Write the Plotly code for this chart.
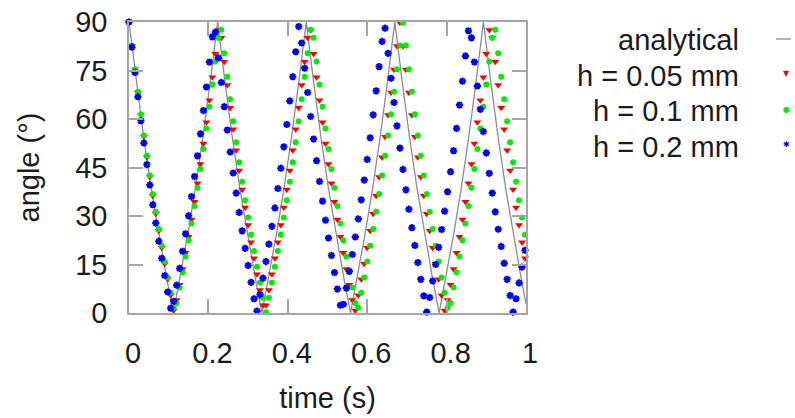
import plotly.graph_objects as go

# ---------------- data ----------------
# analytical solution (polyline vertices)
analytical_time = [
    0.0, 0.0186, 0.0372, 0.0558, 0.0744, 0.0930, 0.1116, 0.1302, 0.1488, 0.1674, 0.1860, 0.2046,
    0.2232, 0.2418, 0.2604, 0.2790, 0.2976, 0.3162, 0.3348, 0.3534, 0.3720, 0.3906, 0.4092, 0.4278,
    0.4464, 0.4650, 0.4836, 0.5022, 0.5208, 0.5394, 0.5580, 0.5766, 0.5952, 0.6138, 0.6324, 0.6510,
    0.6696, 0.6882, 0.7068, 0.7254, 0.7440, 0.7626, 0.7812, 0.7998, 0.8184, 0.8370, 0.8556, 0.8742,
    0.8928, 0.9114, 0.9300, 0.9486, 0.9672, 0.9858, 1.0]
analytical_angle = [
    90, 71.5, 54.2, 38.7, 24.8, 12.1, 0, 12.1, 24.8, 38.7, 54.2, 71.5,
    90, 71.5, 54.2, 38.7, 24.8, 12.1, 0, 12.1, 24.8, 38.7, 54.2, 71.5,
    90, 71.5, 54.2, 38.7, 24.8, 12.1, 0, 12.1, 24.8, 38.7, 54.2, 71.5,
    90, 71.5, 54.2, 38.7, 24.8, 12.1, 0, 12.1, 24.8, 38.7, 54.2, 71.5,
    90, 71.5, 54.2, 38.7, 24.8, 12.1, 2.8]

# simulated angles, one sample every 0.0075 s
angle_h005 = [
    90.0, 82.6, 75.3, 68.2, 61.2, 54.5, 48.2, 42.1, 36.3, 30.7,
    25.4, 20.2, 15.2, 10.4, 5.5, 0.8, 4.0, 8.7, 13.6, 18.6,
    23.6, 28.9, 34.4, 40.1, 46.1, 52.4, 59.0, 65.8, 72.9, 80.2,
    87.5, 85.1, 77.7, 70.5, 63.5, 56.8, 50.3, 44.1, 38.2, 32.6,
    27.2, 21.9, 16.9, 12.0, 7.1, 2.4, 2.4, 7.1, 12.0, 16.9,
    21.9, 27.2, 32.6, 38.2, 44.1, 50.3, 56.8, 63.5, 70.5, 77.7,
    85.1, 87.5, 80.2, 72.9, 65.8, 59.0, 52.4, 46.1, 40.1, 34.4,
    28.9, 23.6, 18.6, 13.6, 8.7, 4.0, 0.8, 5.5, 10.4, 15.2,
    20.2, 25.4, 30.7, 36.3, 42.1, 48.2, 54.5, 61.2, 68.2, 75.3,
    82.6, 89.8, 82.6, 75.3, 68.2, 61.2, 54.5, 48.2, 42.1, 36.3,
    30.7, 25.4, 20.2, 15.2, 10.4, 5.5, 0.8, 4.0, 8.7, 13.6,
    18.6, 23.6, 28.9, 34.4, 40.1, 46.1, 52.4, 59.0, 65.8, 72.9,
    80.2, 87.5, 85.1, 77.7, 70.5, 63.5, 56.8, 50.3, 44.1, 38.2,
    32.6, 27.2, 21.9, 16.9]

angle_h01 = [
    90.0, 82.7, 75.4, 68.4, 61.5, 54.9, 48.6, 42.5, 36.8, 31.3,
    26.0, 20.8, 15.9, 11.0, 6.3, 1.6, 3.1, 7.9, 12.6, 17.5,
    22.5, 27.7, 33.1, 38.7, 44.5, 50.7, 57.1, 63.8, 70.7, 77.8,
    85.1, 87.6, 80.3, 73.1, 66.1, 59.3, 52.8, 46.6, 40.6, 34.9,
    29.5, 24.2, 19.2, 14.3, 9.4, 4.7, 0.2, 4.7, 9.4, 14.3,
    19.2, 24.2, 29.5, 34.9, 40.6, 46.6, 52.8, 59.3, 66.1, 73.1,
    80.3, 87.6, 85.1, 77.8, 70.7, 63.8, 57.1, 50.7, 44.5, 38.7,
    33.1, 27.7, 22.5, 17.5, 12.6, 7.9, 3.1, 1.6, 6.3, 11.0,
    15.9, 20.8, 26.0, 31.3, 36.8, 42.5, 48.6, 54.9, 61.5, 68.4,
    75.4, 82.7, 89.8, 82.7, 75.4, 68.4, 61.5, 54.9, 48.6, 42.5,
    36.8, 31.3, 26.0, 20.8, 15.9, 11.0, 6.3, 1.6, 3.1, 7.9,
    12.6, 17.5, 22.5, 27.7, 33.1, 38.7, 44.5, 50.7, 57.1, 63.8,
    70.7, 77.8, 85.1, 87.6, 80.3, 73.1, 66.1, 59.3, 52.8, 46.6,
    40.6, 34.9, 29.5, 24.2]

angle_h02 = [
    90.0, 82.2, 74.4, 66.9, 59.5, 52.6, 45.9, 39.6, 33.5, 27.8,
    22.2, 16.9, 11.6, 6.5, 1.5, 3.6, 8.6, 13.8, 19.1, 24.5,
    30.1, 36.0, 42.2, 48.6, 55.4, 62.6, 69.9, 77.6, 85.4, 86.8,
    78.9, 71.3, 63.8, 56.6, 49.8, 43.3, 37.1, 31.1, 25.4, 20.0,
    14.7, 9.5, 4.4, 0.6, 5.7, 10.8, 15.9, 21.3, 26.8, 32.5,
    38.5, 44.8, 51.4, 58.3, 65.6, 73.1, 80.8, 88.6, 83.5, 75.7,
    68.2, 60.8, 53.8, 47.1, 40.7, 34.6, 28.7, 23.2, 17.8, 12.5,
    7.4, 2.4, 2.7, 7.7, 12.9, 18.1, 23.5, 29.1, 35.0, 41.1,
    47.5, 54.2, 61.3, 68.7, 76.2, 84.0, 88.1, 80.3, 72.6, 65.1,
    57.9, 51.0, 44.4, 38.1, 32.1, 26.4, 20.9, 15.6, 10.4, 5.3,
    0.3, 4.8, 9.9, 15.0, 20.3, 25.8, 31.5, 37.5, 43.7, 50.2,
    57.1, 64.3, 71.7, 79.5, 87.3, 85.1, 77.6, 70.2, 63.0, 56.1,
    49.5, 43.2, 37.1, 31.3, 25.9, 20.6, 15.4, 10.4, 5.4, 0.3,
    4.4, 9.3, 14.2, 19.4]

sample_interval = 0.0075
time_sim = [round(i * sample_interval, 4) for i in range(len(angle_h005))]

series_names = ["analytical", "h = 0.05 mm", "h = 0.1 mm", "h = 0.2 mm"]
x_tick_values = [0, 0.2, 0.4, 0.6, 0.8, 1]
x_tick_labels = ["0", "0.2", "0.4", "0.6", "0.8", "1"]
y_tick_values = [0, 15, 30, 45, 60, 75, 90]
y_tick_labels = ["0", "15", "30", "45", "60", "75", "90"]

# ---------------- figure ----------------
FONT = "Liberation Sans, Arial, sans-serif"
TXT = "#1c1c1c"
AX = "#a6a6a6"
FS = 29

W, H = 795, 418
L, T = 129, 22
PW, PH = 397, 291
R, B = W - L - PW, H - T - PH

fig = go.Figure()
fig.add_trace(go.Scatter(x=analytical_time, y=analytical_angle, mode="lines",
                         line=dict(color="#8c8c8c", width=1.3),
                         name=series_names[0], showlegend=False, cliponaxis=False))
fig.add_trace(go.Scatter(x=time_sim, y=angle_h005, mode="markers",
                         marker=dict(symbol="triangle-down", size=7, color="#ff0000"),
                         name=series_names[1], showlegend=False, cliponaxis=False))
fig.add_trace(go.Scatter(x=time_sim, y=angle_h01, mode="markers",
                         marker=dict(symbol="circle", size=6, color="#00ee00"),
                         name=series_names[2], showlegend=False, cliponaxis=False))
fig.add_trace(go.Scatter(x=time_sim, y=angle_h02, mode="markers",
                         marker=dict(symbol="asterisk-open", size=6, color="#0000ff",
                                     line=dict(color="#0000ff", width=2)),
                         name=series_names[3], showlegend=False, cliponaxis=False))

axis_common = dict(showgrid=False, zeroline=False, showline=True, linecolor=AX, linewidth=1.5,
                   mirror="ticks", ticks="inside", ticklen=14, tickwidth=1.5, tickcolor=AX,
                   ticklabeloverflow="allow",
                   tickfont=dict(family=FONT, size=FS, color=TXT))

fig.update_xaxes(range=[0, 1], tickvals=x_tick_values,
                 ticktext=["\u00a0" + s for s in x_tick_labels],
                 ticklabelstandoff=13,
                 title=dict(text="time (s)", font=dict(family=FONT, size=FS, color=TXT), standoff=20),
                 **axis_common)
fig.update_yaxes(range=[0, 90], tickvals=y_tick_values, ticktext=y_tick_labels,
                 ticklabelstandoff=14,
                 title=dict(text="angle (°)", font=dict(family=FONT, size=FS, color=TXT), standoff=27),
                 **axis_common)

# key (gnuplot style: right-aligned text, sample at right); positions in window pixels
def px(xp):
    return (xp - L) / PW

def py(yp):
    return (T + PH - yp) / PH

row_y = [40, 75.5, 111, 146.5]
for name, yy in zip(series_names, row_y):
    fig.add_annotation(x=px(741), y=py(yy), xref="paper", yref="paper", text=name,
                       showarrow=False, xanchor="right", yanchor="middle",
                       font=dict(family=FONT, size=FS, color=TXT))
fig.add_shape(type="line", xref="paper", yref="paper", x0=px(776), x1=px(791),
              y0=py(row_y[0] - 1), y1=py(row_y[0] - 1), line=dict(color="#8c8c8c", width=1.3))
key_syms = [("\u25bc", "#ff0000", 8), ("\u25cf", "#00ee00", 8), ("\u2731", "#0000ff", 8)]
for (sym, col, sz), yy in zip(key_syms, row_y[1:]):
    fig.add_annotation(x=px(786.5), y=py(yy - 2), xref="paper", yref="paper", text=sym,
                       showarrow=False, xanchor="center", yanchor="middle",
                       font=dict(family="DejaVu Sans", size=sz, color=col))

fig.update_layout(width=W, height=H, margin=dict(l=L, r=R, t=T, b=B, autoexpand=False),
                  paper_bgcolor="white", plot_bgcolor="white", showlegend=False)

# remove the default page margin so the figure fills the window exactly
fig.write_html("out.html", config={"displayModeBar": False},
               post_script="document.body.style.margin='0px';document.body.style.overflow='hidden';")
